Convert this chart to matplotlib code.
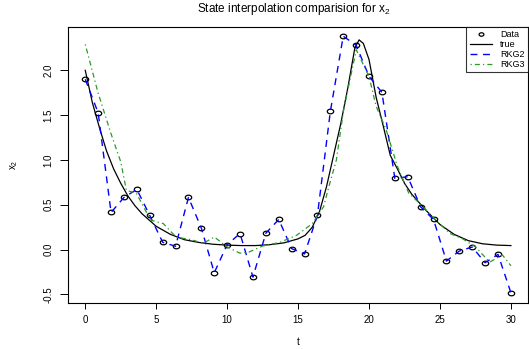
import numpy as np
import matplotlib
matplotlib.use('Agg')
from matplotlib import pyplot as plt
from matplotlib.path import Path
from matplotlib.transforms import Affine2D

plt.rcParams['font.family'] = ['Liberation Sans', 'DejaVu Sans']
plt.rcParams['mathtext.fontset'] = 'custom'
plt.rcParams['mathtext.rm'] = 'Liberation Sans'

# observed data (34 equally spaced samples on [0, 30])
t_data = np.linspace(0, 30, 34)
x2_data = [1.90, 1.526, 0.414, 0.582, 0.672, 0.381, 0.082, 0.037, 0.582, 0.239,
           -0.258, 0.056, 0.179, -0.307, 0.183, 0.336, 0.011, -0.049, 0.384, 1.541,
           2.381, 2.28, 1.933, 1.754, 0.795, 0.813, 0.477, 0.336, -0.128, -0.016,
           0.029, -0.146, -0.053, -0.482]

# true state
t_true = [0, 0.5, 1, 1.5, 2, 2.5, 3, 3.5, 4, 5, 6, 7, 8, 9, 10, 11, 12, 13, 14,
          15, 15.5, 16, 16.5, 17, 17.5, 18, 18.5, 19, 19.3, 19.6, 20, 20.5, 21,
          21.5, 22, 22.5, 23, 24, 25, 26, 27, 28, 29, 30]
x2_true = [2.00, 1.64, 1.36, 1.10, 0.90, 0.74, 0.60, 0.49, 0.40, 0.26, 0.17, 0.11,
           0.08, 0.06, 0.05, 0.045, 0.045, 0.055, 0.075, 0.12, 0.16, 0.25, 0.42,
           0.70, 1.05, 1.40, 1.80, 2.25, 2.34, 2.30, 2.12, 1.70, 1.38, 1.05, 0.90,
           0.74, 0.62, 0.44, 0.28, 0.17, 0.10, 0.065, 0.05, 0.045]

# RKG3 interpolation
t_rkg3 = [0, 0.9, 1.8, 2.5, 2.9, 3.6, 4.6, 5.5, 6.4, 7.5, 8.3, 9.1, 10.0, 10.9,
          11.5, 12.5, 13.7, 14.9, 16.0, 16.8, 17.2, 17.7, 18.2, 19.1, 20.0, 20.5,
          21.2, 22.0, 22.8, 23.8, 24.7, 25.7, 26.6, 27.5, 28.5, 29.4, 30]
x2_rkg3 = [2.29, 1.75, 1.30, 0.98, 0.66, 0.63, 0.33, 0.29, 0.14, 0.11, 0.07, 0.14,
           0.03, -0.04, -0.03, 0.04, 0.08, 0.16, 0.29, 0.48, 0.72, 1.0, 1.55, 2.23,
           1.93, 1.60, 1.34, 0.93, 0.63, 0.48, 0.33, 0.18, 0.12, 0.03, -0.14, -0.06,
           -0.18]

# slightly wide open circle, like the stretched R plot
ell = Path.unit_circle().transformed(Affine2D().scale(1.0, 0.72))

fig = plt.figure(figsize=(5.29, 3.49), dpi=100)
ax = fig.add_axes([0.129, 0.132, 0.869, 0.791])

ax.plot(t_data, x2_data, linestyle='none', marker=ell, markersize=4.6,
        markerfacecolor='none', markeredgecolor='black', markeredgewidth=0.9,
        label='Data')
ax.plot(t_true, x2_true, color='black', linewidth=0.9, label='true')
ax.plot(t_data, x2_data, color='#0000ff', linewidth=1.0, dashes=(5, 4), label='RKG2')
ax.plot(t_rkg3, x2_rkg3, color='#2a9a2a', linewidth=0.9, dashes=(1, 2.5, 4, 2.5),
        label='RKG3')

ax.set_xlim(-1.2, 31.2)
ax.set_ylim(-0.595, 2.485)
ax.set_xticks([0, 5, 10, 15, 20, 25, 30])
ax.set_yticks([-0.5, 0.0, 0.5, 1.0, 1.5, 2.0])
ax.set_yticklabels(['-0.5', '0.0', '0.5', '1.0', '1.5', '2.0'])
ax.tick_params(axis='x', length=4, width=0.7, pad=5, labelsize=7)
ax.tick_params(axis='y', length=5.8, width=0.7, pad=5, labelsize=7)
for lab in ax.get_yticklabels():
    lab.set_rotation(90)
    lab.set_va('center')
for s in ax.spines.values():
    s.set_linewidth(0.8)

ax.set_xlabel('t', fontsize=7, labelpad=8)
ax.set_ylabel(r'$\mathregular{x_2}$', fontsize=7, labelpad=17)
fig.text(0.555, 0.975, r'State interpolation comparision for $\mathregular{x_2}$',
         ha='center', va='center', fontsize=8.5)

leg = ax.legend(loc='upper right', bbox_to_anchor=(1, 1), borderaxespad=0,
                fontsize=6.5, fancybox=False, frameon=True, labelspacing=0.12,
                handlelength=2.5, handletextpad=0.9, borderpad=0.35,
                markerscale=0.75)
leg.get_frame().set_edgecolor('black')
leg.get_frame().set_linewidth(0.8)

fig.savefig('out.png', dpi=100)
